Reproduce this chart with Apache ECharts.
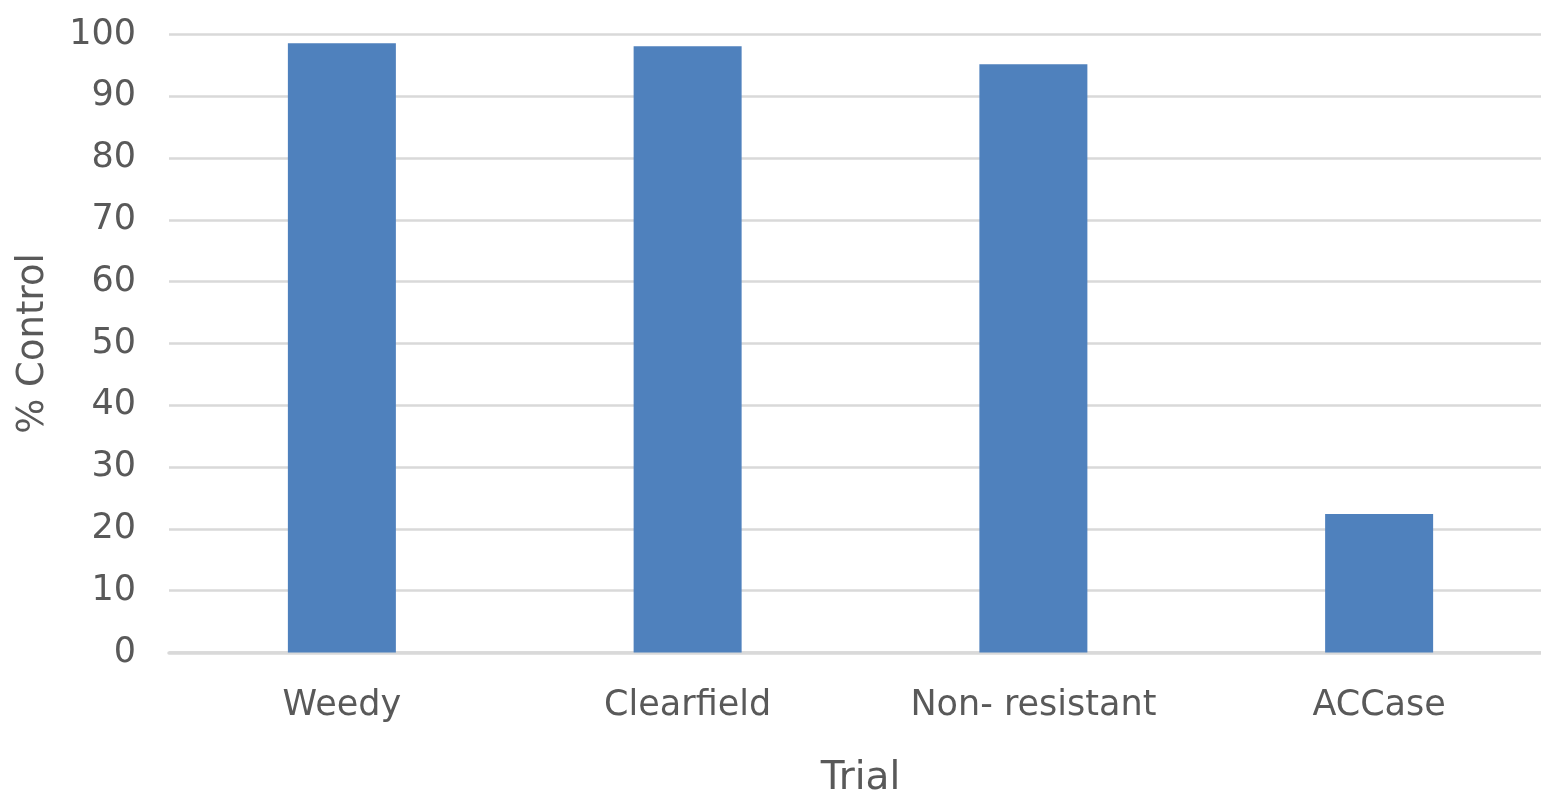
<!DOCTYPE html>
<html>
<head>
<meta charset="utf-8">
<script src="https://cdn.jsdelivr.net/npm/echarts@6/dist/echarts.min.js"></script>
<style>
  html, body { margin: 0; padding: 0; background: #ffffff; }
  #chart { width: 1541px; height: 794px; }
</style>
</head>
<body>
<div id="chart"></div>
<script>
// Trial categories and the % control measured in each
const categories = ['Weedy', 'Clearfield', 'Non- resistant', 'ACCase'];
const controlPct = [98.6, 98.1, 95.2, 22.4];
const yTicks = { min: 0, max: 100, step: 10 };

const textColor = '#595959';
const gridColor = '#d9d9d9';
const fontFamily = '"DejaVu Sans", sans-serif';

const chart = echarts.init(document.getElementById('chart'), null, { renderer: 'canvas' });

chart.setOption({
  animation: false,
  backgroundColor: '#ffffff',
  // plot area runs a little past the right edge of the canvas
  grid: {
    left: 169, width: 1383, top: 34.5, bottom: 141.5,
    containLabel: false, outerBoundsMode: 'none'
  },
  xAxis: {
    type: 'category',
    data: categories,
    name: 'Trial',
    nameLocation: 'middle',
    nameGap: 107,
    nameTextStyle: { color: textColor, fontSize: 39, fontFamily: fontFamily },
    axisLine: { show: true, lineStyle: { color: gridColor, width: 3.5 } },
    axisTick: { show: false },
    axisLabel: { color: textColor, fontSize: 35, fontFamily: fontFamily, margin: 36, interval: 0 }
  },
  yAxis: {
    type: 'value',
    min: yTicks.min,
    max: yTicks.max,
    interval: yTicks.step,
    name: '% Control',
    nameLocation: 'middle',
    nameRotate: 90,
    nameGap: 117,
    nameTextStyle: { color: textColor, fontSize: 37, fontFamily: fontFamily },
    axisLine: { show: false },
    axisTick: { show: false },
    axisLabel: { color: textColor, fontSize: 35, fontFamily: fontFamily, margin: 33 },
    splitLine: { show: true, lineStyle: { color: gridColor, width: 2.7 } }
  },
  series: [{
    type: 'bar',
    data: controlPct,
    barWidth: 108,
    itemStyle: { color: '#4f81bd' }
  }]
});
</script>
</body>
</html>
